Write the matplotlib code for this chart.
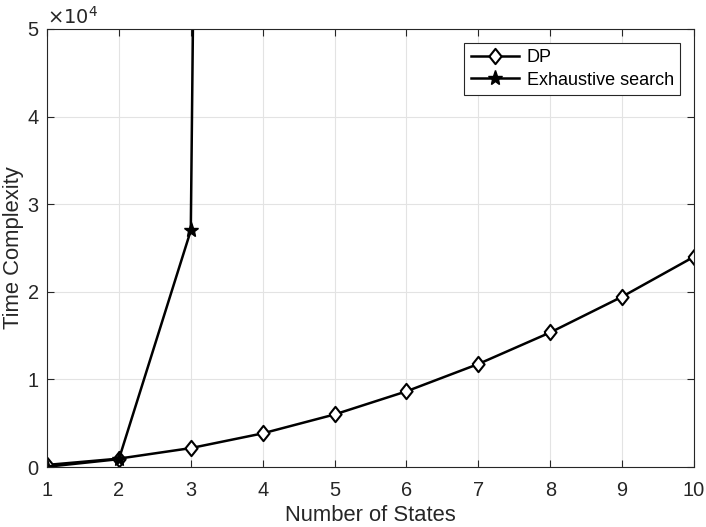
import matplotlib
matplotlib.use("Agg")
import matplotlib.pyplot as plt

plt.rcParams["font.family"] = ["Liberation Sans", "DejaVu Sans"]

states = [1, 2, 3, 4, 5, 6, 7, 8, 9, 10]
dp = [240, 960, 2160, 3840, 6000, 8640, 11760, 15360, 19440, 24000]
ex_states = [1, 2, 3, 4]
exhaustive = [30, 900, 27000, 810000]

# MATLAB-like diamond, a bit wider than matplotlib's thin diamond
diamond = [(-0.4, 0), (0, 0.5), (0.4, 0), (0, -0.5), (-0.4, 0)]

fig = plt.figure(figsize=(7.06, 5.27), dpi=100)
ax = fig.add_axes([0.0666, 0.1138, 0.9164, 0.8312])

ax.plot(states, dp, "k-", marker=diamond, markersize=11, markerfacecolor="white",
        markeredgewidth=1.5, linewidth=1.8, label="DP")
ax.plot(ex_states, exhaustive, "k-", marker="*", markersize=11,
        linewidth=1.8, label="Exhaustive search")

ax.set_xlim(1, 10)
ax.set_ylim(0, 50000)
ax.set_xticks(range(1, 11))
ax.set_yticks([0, 10000, 20000, 30000, 40000, 50000])
ax.set_yticklabels(["0", "1", "2", "3", "4", "5"])
ax.text(0.0, 1.003, r"$\times10^4$", transform=ax.transAxes, fontsize=14,
        ha="left", va="bottom", color="#262626")

ax.grid(True, color="#e3e3e3", linewidth=0.8)
ax.tick_params(direction="in", top=True, right=True, labelsize=14.4,
               colors="#262626", length=5)
ax.tick_params(axis="x", pad=10)
ax.tick_params(axis="y", pad=6)
for s in ax.spines.values():
    s.set_color("#262626")
    s.set_linewidth(0.8)

ax.set_xlabel("Number of States", fontsize=15.8, color="#262626", labelpad=4)
ax.set_ylabel("Time Complexity", fontsize=15.8, color="#262626", labelpad=2.5)

leg = ax.legend(loc="upper right", fontsize=13, fancybox=False, framealpha=1,
                edgecolor="#262626", borderaxespad=0.77, handlelength=2.7,
                borderpad=0.35, labelspacing=0.3, handletextpad=0.4)
leg.get_frame().set_linewidth(0.8)

fig.savefig("out.png", dpi=100)
